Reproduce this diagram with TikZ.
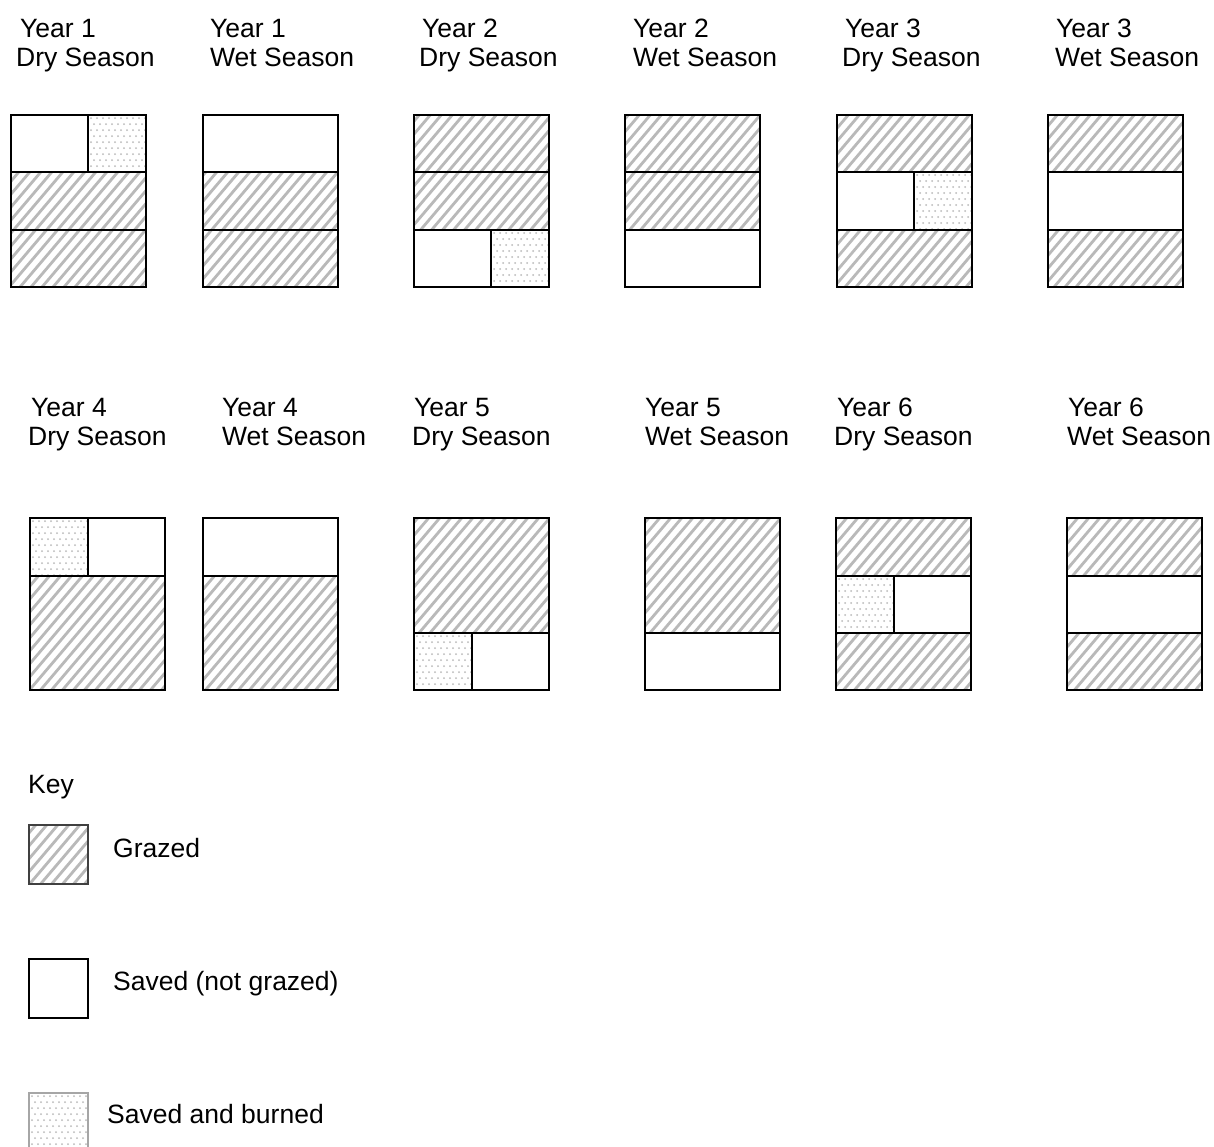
\documentclass[tikz,border=0pt]{standalone}
\usepackage{fontspec}
\setmainfont{Liberation Sans}
\tikzset{
  lbl/.style={anchor=base west, inner sep=0pt, font=\fontsize{26.5}{30}\selectfont},
  bx/.style={draw=black, line width=2pt},
  hatchln/.style={draw=gray!55, line width=2.8pt},
  dotfill/.style={fill=gray!55},
}
\newcommand\grz[4]{%
  \begin{scope}
    \clip (#1,#2) rectangle (#3,#4);
    \pgfmathtruncatemacro\na{(#1+0.85*#2)/11-1}
    \pgfmathtruncatemacro\nb{(#3+0.85*#4)/11+1}
    \foreach \n in {\na,...,\nb}{
      \draw[hatchln] ({11*\n-0.85*#4},#4) -- ({11*\n-0.85*#2},#2);
    }
  \end{scope}}
\newcommand\brn[4]{%
  \begin{scope}
    \clip (#1,#2) rectangle (#3,#4);
    \foreach \i in {0,...,10}{
      \foreach \j in {0,...,10}{
        \fill[dotfill] ({#1+3+6*\i+3*mod(\j,2)},{#2+3+6*\j}) circle (1.0);
      }
    }
  \end{scope}}
\begin{document}
\begin{tikzpicture}[x=1pt,y=-1pt]
\fill[white] (0,0) rectangle (1214,1146);
\useasboundingbox (0,0) rectangle (1214,1146);
\clip (0,0) rectangle (1214,1146);

% ---------- labels row 1
\node[lbl] (l1a) at (20,37) {Year 1};   \node[lbl] (l1b) at (16,66) {Dry Season};
\node[lbl] (l2a) at (210,37) {Year 1};  \node[lbl] (l2b) at (210,66) {Wet Season};
\node[lbl] (l3a) at (422,37) {Year 2};  \node[lbl] (l3b) at (419,66) {Dry Season};
\node[lbl] (l4a) at (633,37) {Year 2};  \node[lbl] (l4b) at (633,66) {Wet Season};
\node[lbl] (l5a) at (845,37) {Year 3};  \node[lbl] (l5b) at (842,66) {Dry Season};
\node[lbl] (l6a) at (1056,37) {Year 3}; \node[lbl] (l6b) at (1055,66) {Wet Season};
% ---------- labels row 2
\node[lbl] (l7a) at (31,416) {Year 4};   \node[lbl] (l7b) at (28,445) {Dry Season};
\node[lbl] (l8a) at (222,416) {Year 4};  \node[lbl] (l8b) at (222,445) {Wet Season};
\node[lbl] (l9a) at (414,416) {Year 5};  \node[lbl] (l9b) at (412,445) {Dry Season};
\node[lbl] (l10a) at (645,416) {Year 5}; \node[lbl] (l10b) at (645,445) {Wet Season};
\node[lbl] (l11a) at (837,416) {Year 6}; \node[lbl] (l11b) at (834,445) {Dry Season};
\node[lbl] (l12a) at (1068,416) {Year 6};\node[lbl] (l12b) at (1067,445) {Wet Season};

% ---------- Year 1 dry
\brn{88}{115}{146}{172}
\grz{11}{172}{146}{287}
\draw[bx] (11,115) rectangle (146,287);
\draw[bx] (11,172) -- (146,172); \draw[bx] (11,230) -- (146,230);
\draw[bx] (88,115) -- (88,172);
% ---------- Year 1 wet
\grz{203}{172}{338}{287}
\draw[bx] (203,115) rectangle (338,287);
\draw[bx] (203,172) -- (338,172); \draw[bx] (203,230) -- (338,230);
% ---------- Year 2 dry
\grz{414}{115}{549}{230}
\brn{491}{230}{549}{287}
\draw[bx] (414,115) rectangle (549,287);
\draw[bx] (414,172) -- (549,172); \draw[bx] (414,230) -- (549,230);
\draw[bx] (491,230) -- (491,287);
% ---------- Year 2 wet
\grz{625}{115}{760}{230}
\draw[bx] (625,115) rectangle (760,287);
\draw[bx] (625,172) -- (760,172); \draw[bx] (625,230) -- (760,230);
% ---------- Year 3 dry
\grz{837}{115}{972}{172}
\grz{837}{230}{972}{287}
\brn{914}{172}{972}{230}
\draw[bx] (837,115) rectangle (972,287);
\draw[bx] (837,172) -- (972,172); \draw[bx] (837,230) -- (972,230);
\draw[bx] (914,172) -- (914,230);
% ---------- Year 3 wet
\grz{1048}{115}{1183}{172}
\grz{1048}{230}{1183}{287}
\draw[bx] (1048,115) rectangle (1183,287);
\draw[bx] (1048,172) -- (1183,172); \draw[bx] (1048,230) -- (1183,230);

% ---------- Year 4 dry
\brn{30}{518}{88}{576}
\grz{30}{576}{165}{690}
\draw[bx] (30,518) rectangle (165,690);
\draw[bx] (30,576) -- (165,576);
\draw[bx] (88,518) -- (88,576);
% ---------- Year 4 wet
\grz{203}{576}{338}{690}
\draw[bx] (203,518) rectangle (338,690);
\draw[bx] (203,576) -- (338,576);
% ---------- Year 5 dry
\grz{414}{518}{549}{633}
\brn{414}{633}{472}{690}
\draw[bx] (414,518) rectangle (549,690);
\draw[bx] (414,633) -- (549,633);
\draw[bx] (472,633) -- (472,690);
% ---------- Year 5 wet
\grz{645}{518}{780}{633}
\draw[bx] (645,518) rectangle (780,690);
\draw[bx] (645,633) -- (780,633);
% ---------- Year 6 dry
\grz{836}{518}{971}{576}
\grz{836}{633}{971}{690}
\brn{836}{576}{894}{633}
\draw[bx] (836,518) rectangle (971,690);
\draw[bx] (836,576) -- (971,576); \draw[bx] (836,633) -- (971,633);
\draw[bx] (894,576) -- (894,633);
% ---------- Year 6 wet
\grz{1067}{518}{1202}{576}
\grz{1067}{633}{1202}{690}
\draw[bx] (1067,518) rectangle (1202,690);
\draw[bx] (1067,576) -- (1202,576); \draw[bx] (1067,633) -- (1202,633);

% ---------- key
\node[lbl] (key) at (28,793) {Key};
\grz{29}{825}{88}{884}
\draw[draw=black!75, line width=1.5pt] (29,825) rectangle (88,884);
\node[lbl] (kg) at (113,857) {Grazed};
\draw[draw=black, line width=1.5pt] (29,959) rectangle (88,1018);
\node[lbl] (ks) at (113,990) {Saved (not grazed)};
\brn{29}{1093}{88}{1152}
\draw[draw=gray!70, line width=1.2pt] (29,1093) rectangle (88,1152);
\node[lbl] (kb) at (107,1123) {Saved and burned};
\end{tikzpicture}
\end{document}
